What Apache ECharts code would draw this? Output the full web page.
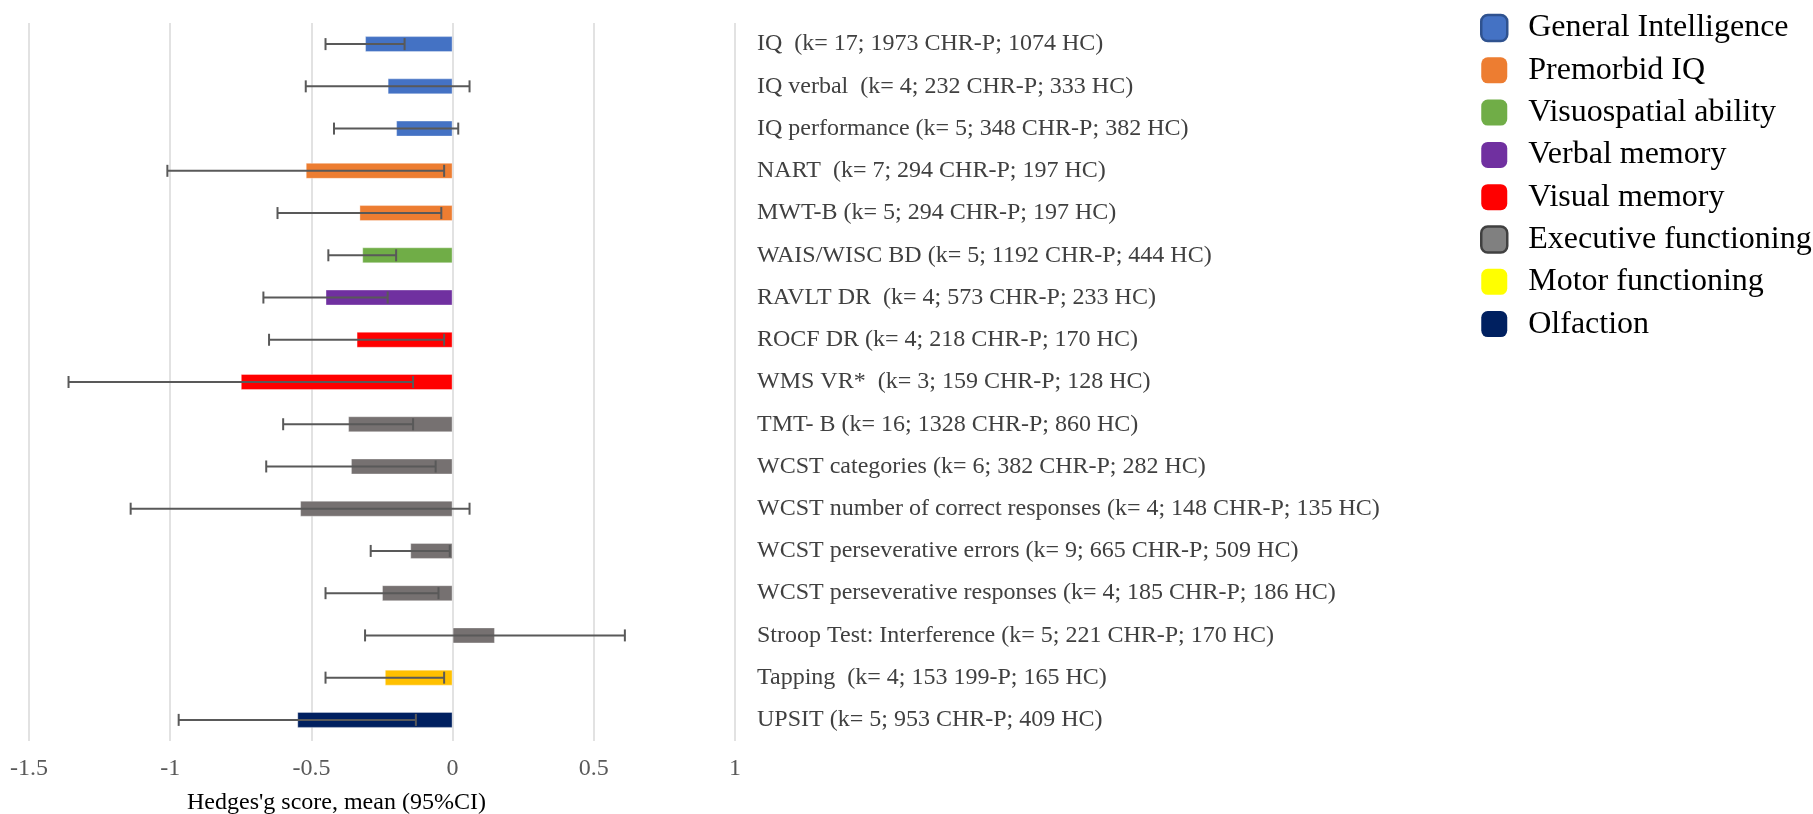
<!DOCTYPE html>
<html>
<head>
<meta charset="utf-8">
<script src="https://cdn.jsdelivr.net/npm/echarts@6/dist/echarts.min.js"></script>
<style>
html,body{margin:0;padding:0;background:#fff;}
#chart{width:1813px;height:814px;}
</style>
</head>
<body>
<div id="chart"></div>
<script>
// ---- data ----
const categories = [
  "IQ  (k= 17; 1973 CHR-P; 1074 HC)",
  "IQ verbal  (k= 4; 232 CHR-P; 333 HC)",
  "IQ performance (k= 5; 348 CHR-P; 382 HC)",
  "NART  (k= 7; 294 CHR-P; 197 HC)",
  "MWT-B (k= 5; 294 CHR-P; 197 HC)",
  "WAIS/WISC BD (k= 5; 1192 CHR-P; 444 HC)",
  "RAVLT DR  (k= 4; 573 CHR-P; 233 HC)",
  "ROCF DR (k= 4; 218 CHR-P; 170 HC)",
  "WMS VR*  (k= 3; 159 CHR-P; 128 HC)",
  "TMT- B (k= 16; 1328 CHR-P; 860 HC)",
  "WCST categories (k= 6; 382 CHR-P; 282 HC)",
  "WCST number of correct responses (k= 4; 148 CHR-P; 135 HC)",
  "WCST perseverative errors (k= 9; 665 CHR-P; 509 HC)",
  "WCST perseverative responses (k= 4; 185 CHR-P; 186 HC)",
  "Stroop Test: Interference (k= 5; 221 CHR-P; 170 HC)",
  "Tapping  (k= 4; 153 199-P; 165 HC)",
  "UPSIT (k= 5; 953 CHR-P; 409 HC)"
];
const means  = [-0.31, -0.23, -0.20, -0.52, -0.33, -0.32, -0.45, -0.34, -0.75, -0.37, -0.36, -0.54, -0.15, -0.25, 0.15, -0.24, -0.55];
const ciLow  = [-0.45, -0.52, -0.42, -1.01, -0.62, -0.44, -0.67, -0.65, -1.36, -0.60, -0.66, -1.14, -0.29, -0.45, -0.31, -0.45, -0.97];
const ciHigh = [-0.17,  0.06,  0.02, -0.03, -0.04, -0.20, -0.23, -0.03, -0.14, -0.14, -0.06,  0.06, -0.01, -0.05, 0.61, -0.03, -0.13];
const domainOf = [0, 0, 0, 1, 1, 2, 3, 4, 4, 5, 5, 5, 5, 5, 5, 6, 7];
const domains = ["General Intelligence", "Premorbid IQ", "Visuospatial ability", "Verbal memory",
                 "Visual memory", "Executive functioning", "Motor functioning", "Olfaction"];
const xTicks = [-1.5, -1, -0.5, 0, 0.5, 1];
const axisTitle = "Hedges'g score, mean (95%CI)";

// ---- styles ----
const barColors = ["#4472C4", "#ED7D31", "#70AD47", "#7030A0", "#FF0000", "#767171", "#FFC000", "#002060"];
const legendColors = ["#4472C4", "#ED7D31", "#70AD47", "#7030A0", "#FF0000", "#808080", "#FFFF00", "#002060"];
const legendBorders = ["#2F528F", null, null, null, null, "#404040", null, null];
const serif = "'Liberation Serif', 'Times New Roman', serif";

const chart = echarts.init(document.getElementById('chart'), null, {renderer: 'canvas'});

const barSeries = domains.map((name, d) => ({
  name: name,
  type: 'bar',
  barWidth: 16,
  barGap: '-100%',
  itemStyle: {color: barColors[d], borderColor: 'rgba(255,255,255,0.35)', borderWidth: 1},
  data: means.map((v, i) => domainOf[i] === d ? v : '-'),
  z: 2
}));

const errSeries = {
  type: 'custom',
  name: 'CI',
  z: 5,
  renderItem: function (params, api) {
    const idx = api.value(0);
    const lo = api.coord([api.value(1), idx]);
    const hi = api.coord([api.value(2), idx]);
    const y = lo[1];
    const cap = 6;
    const style = {stroke: '#595959', lineWidth: 2};
    return {
      type: 'group',
      children: [
        {type: 'line', shape: {x1: lo[0], y1: y, x2: hi[0], y2: y}, style: style},
        {type: 'line', shape: {x1: lo[0], y1: y - cap, x2: lo[0], y2: y + cap}, style: style},
        {type: 'line', shape: {x1: hi[0], y1: y - cap, x2: hi[0], y2: y + cap}, style: style}
      ]
    };
  },
  encode: {x: [1, 2], y: 0},
  data: categories.map((c, i) => [i, ciLow[i], ciHigh[i]])
};

chart.setOption({
  animation: false,
  backgroundColor: '#ffffff',
  title: {
    text: axisTitle,
    left: 182,
    top: 786,
    textStyle: {fontFamily: serif, fontSize: 24, fontWeight: 'normal', color: '#000000'}
  },
  legend: {
    orient: 'vertical',
    left: 1475,
    top: 7,
    itemWidth: 26,
    itemHeight: 26,
    itemGap: 10.3,
    icon: 'roundRect',
    textStyle: {fontFamily: serif, fontSize: 32, color: '#000000', lineHeight: 26, padding: [0, 0, 0, 16]},
    data: domains.map((n, d) => ({
      name: n,
      itemStyle: legendBorders[d]
        ? {color: legendColors[d], borderColor: legendBorders[d], borderWidth: 2.5}
        : {color: legendColors[d], borderWidth: 0}
    }))
  },
  grid: {left: 29, right: 1078, top: 23, bottom: 73, containLabel: false},
  xAxis: {
    type: 'value',
    min: xTicks[0],
    max: xTicks[xTicks.length - 1],
    interval: 0.5,
    axisLine: {show: false},
    axisTick: {show: false},
    splitLine: {show: true, lineStyle: {color: '#D9D9D9', width: 1.5}},
    axisLabel: {
      fontFamily: serif, fontSize: 24, color: '#595959', margin: 16,
      formatter: v => String(v)
    }
  },
  yAxis: {
    type: 'category',
    data: categories,
    inverse: true,
    position: 'right',
    axisLine: {show: false},
    axisTick: {show: false},
    splitLine: {show: false},
    axisLabel: {
      interval: 0, align: 'left', margin: 22,
      fontFamily: serif, fontSize: 24, color: '#404040'
    }
  },
  series: barSeries.concat([errSeries])
});
</script>
</body>
</html>
